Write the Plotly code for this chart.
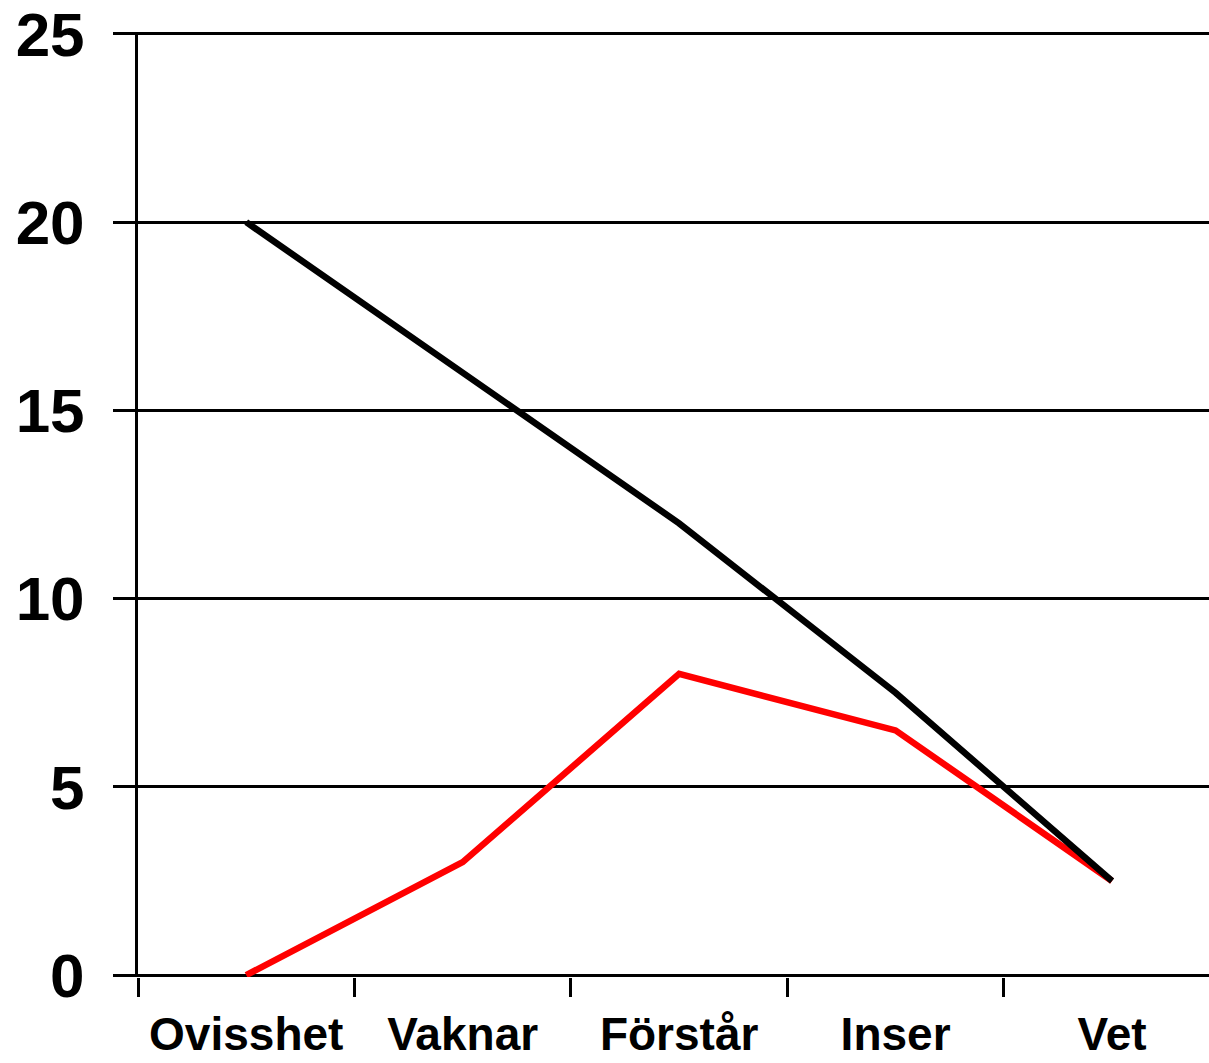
import plotly.graph_objects as go

categories = ["Ovisshet", "Vaknar", "Förstår", "Inser", "Vet"]
black_values = [20, 16, 12, 7.5, 2.5]
red_values = [0, 3, 8, 6.5, 2.5]
y_ticks = [0, 5, 10, 15, 20, 25]

fig = go.Figure()
fig.add_trace(go.Scatter(x=categories, y=red_values, mode="lines",
                         line=dict(color="#ff0000", width=6.5), cliponaxis=False,
                         showlegend=False))
fig.add_trace(go.Scatter(x=categories, y=black_values, mode="lines",
                         line=dict(color="#000000", width=6.5), cliponaxis=False,
                         showlegend=False))

font_family = "Liberation Sans, Arial, sans-serif"
fig.update_layout(
    width=1209, height=1063,
    margin=dict(l=138, r=0, t=32, b=86, autoexpand=False),
    paper_bgcolor="white", plot_bgcolor="white",
    showlegend=False,
    xaxis=dict(
        type="category", range=[-0.5, 4.448], automargin=False,
        tickson="boundaries", ticks="outside", ticklen=19, tickwidth=2.5,
        tickcolor="black", showgrid=False, showline=False, zeroline=False,
        tickfont=dict(family=font_family, size=46, color="black", weight="bold"),
        ticklabelstandoff=26, ticklabeloverflow="allow",
    ),
    yaxis=dict(
        range=[-0.05, 25.05], tickvals=y_ticks, ticks="outside", ticklen=22,
        automargin=False,
        tickwidth=2.5, tickcolor="black", showgrid=True, gridcolor="black",
        gridwidth=3, showline=True, linecolor="black", linewidth=3,
        zeroline=False,
        tickfont=dict(family=font_family, size=62, color="black", weight="bold"),
        ticklabelstandoff=16, ticklabeloverflow="allow",
    ),
)

fig.write_html(
    "out.html",
    config={"displayModeBar": False},
    post_script="document.body.style.margin='0';document.body.style.overflow='hidden';",
)
